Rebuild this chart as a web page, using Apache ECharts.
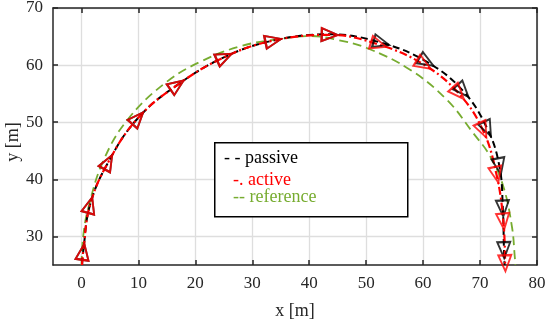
<!DOCTYPE html>
<html>
<head>
<meta charset="utf-8">
<script src="https://cdn.jsdelivr.net/npm/echarts@6/dist/echarts.min.js"></script>
<style>html,body{margin:0;padding:0;background:#fff}#c{width:550px;height:324px}</style>
</head>
<body>
<div id="c"></div>
<script>
var xTicks = [0, 10, 20, 30, 40, 50, 60, 70, 80];
var yTicks = [30, 40, 50, 60, 70];

var activeMarkers = [[0.3,27.3],[1.5,35.5],[4.7,43.0],[9.9,50.7],[16.8,56.5],[25.1,61.4],[33.7,64.3],[43.6,65.3],[52.2,63.6],[60.1,60.1],[66.2,55.1],[70.5,48.6],[72.9,40.8],[74.1,32.6],[74.4,25.3]];
var activeLine = [[0.1,25.0],[0.3,27.3],[1.5,35.5],[4.7,43.0],[9.9,50.7],[16.8,56.5],[25.1,61.4],[33.7,64.3],[43.6,65.3],[52.2,63.6],[60.1,60.1],[66.2,55.1],[70.5,48.6],[72.9,40.8],[74.1,32.6],[74.4,25.0]];

var passiveMarkers = [[0.3,27.3],[1.5,35.5],[4.7,43.0],[9.9,50.7],[16.8,56.5],[25.1,61.4],[33.7,64.3],[43.6,65.3],[52.7,63.9],[60.6,60.6],[67.0,55.5],[71.3,48.8],[73.4,42.3],[74.0,34.9],[74.2,27.6]];
var passiveLine = [[0.1,25.0],[0.3,27.3],[1.5,35.5],[4.7,43.0],[9.9,50.7],[16.8,56.5],[25.1,61.4],[33.7,64.3],[43.6,65.4],[52.7,63.9],[60.6,60.6],[67.0,55.5],[71.3,48.8],[73.4,42.3],[74.0,34.9],[74.2,27.6],[74.3,25.0]];

var referenceLine = [[0.0,25.0],[0.3,30.0],[1.2,35.0],[3.9,43.4],[8.3,50.7],[15.0,57.1],[20.9,60.6],[27.9,63.3],[34.9,64.6],[40.2,65.1],[45.0,64.4],[50.1,63.0],[57.7,59.2],[64.2,53.9],[68.8,48.1],[71.8,44.0],[74.1,38.7],[75.6,31.7],[76.1,26.4],[76.2,25.0]];

function withRotation(pts) {
  return pts.map(function (p, i) {
    var a = pts[Math.max(0, i - 1)], b = pts[Math.min(pts.length - 1, i + 1)];
    var ang = Math.atan2(b[1] - a[1], b[0] - a[0]) * 180 / Math.PI;
    return { value: p, symbolRotate: ang - 90 };
  });
}

var font = 'Liberation Serif';
var axisCol = '#262626';
var gridCol = '#dedede';

function xAxisDef(pos, show) {
  return {
    type: 'value', position: pos, min: -5, max: 80,
    axisLine: { show: true, onZero: false, lineStyle: { color: axisCol, width: 1.5 } },
    axisTick: { show: true, inside: true, length: 5, customValues: xTicks, lineStyle: { color: axisCol, width: 1.5 } },
    axisLabel: { show: show, customValues: xTicks, color: '#262626', fontFamily: font, fontSize: 17, margin: 10 },
    splitLine: { show: show, lineStyle: { color: gridCol, width: 1.3 } },
    name: show ? 'x [m]' : '', nameLocation: 'middle', nameGap: 37,
    nameTextStyle: { color: '#262626', fontFamily: font, fontSize: 18 }
  };
}
function yAxisDef(pos, show) {
  return {
    type: 'value', position: pos, min: 25, max: 70,
    axisLine: { show: true, onZero: false, lineStyle: { color: axisCol, width: 1.5 } },
    axisTick: { show: true, inside: true, length: 5, customValues: yTicks, lineStyle: { color: axisCol, width: 1.5 } },
    axisLabel: { show: show, customValues: yTicks, color: '#262626', fontFamily: font, fontSize: 17, margin: 10 },
    splitLine: { show: show, lineStyle: { color: gridCol, width: 1.3 } }
  };
}

var chart = echarts.init(document.getElementById('c'), null, { renderer: 'canvas' });
chart.setOption({
  animation: false,
  backgroundColor: '#fff',
  grid: { left: 53, right: 13, top: 8, bottom: 59, containLabel: false, outerBoundsMode: 'none' },
  xAxis: [xAxisDef('bottom', true), xAxisDef('top', false)],
  yAxis: [yAxisDef('left', true), yAxisDef('right', false)],
  series: [
    { type: 'line', name: 'reference', data: referenceLine, smooth: 0.4, showSymbol: false, clip: true, z: 2,
      lineStyle: { color: '#77AC30', width: 1.8, type: [9, 5] } },
    { type: 'line', name: 'passive', data: passiveLine, smooth: 0.4, showSymbol: false, clip: true, z: 3,
      lineStyle: { color: '#000', width: 2, type: [7, 4] } },
    { type: 'line', name: 'active', data: activeLine, smooth: 0.4, showSymbol: false, clip: true, z: 4,
      lineStyle: { color: '#ff0000', width: 2.2, type: [8, 3, 2, 3] } },
    { type: 'scatter', name: 'passiveM', data: withRotation(passiveMarkers), symbol: 'triangle', symbolSize: [13, 16], clip: true, z: 5,
      itemStyle: { color: 'rgba(0,0,0,0)', borderColor: '#000', borderWidth: 2 } },
    { type: 'scatter', name: 'activeM', data: withRotation(activeMarkers), symbol: 'triangle', symbolSize: [13, 16], clip: true, z: 6,
      itemStyle: { color: 'rgba(0,0,0,0)', borderColor: '#ff0000', borderWidth: 2 } }
  ],
  graphic: [
    { type: 'text', x: 13, y: 142, rotation: Math.PI / 2, z: 50,
      style: { text: 'y [m]', fill: '#262626', font: '18px "Liberation Serif"', align: 'center', verticalAlign: 'middle' } },
    { type: 'rect', left: 214, top: 142, z: 100, shape: { width: 193, height: 74 },
      style: { fill: '#fff', stroke: '#000', lineWidth: 1.5 } },
    { type: 'text', left: 224, top: 149, z: 101, style: { text: '- - passive', fill: '#000', font: '18px "Liberation Serif"' } },
    { type: 'text', left: 233, top: 171, z: 101, style: { text: '-. active', fill: '#ff0000', font: '18px "Liberation Serif"' } },
    { type: 'text', left: 233, top: 188, z: 101, style: { text: '-- reference', fill: '#77AC30', font: '18px "Liberation Serif"' } }
  ]
});
</script>
</body>
</html>
